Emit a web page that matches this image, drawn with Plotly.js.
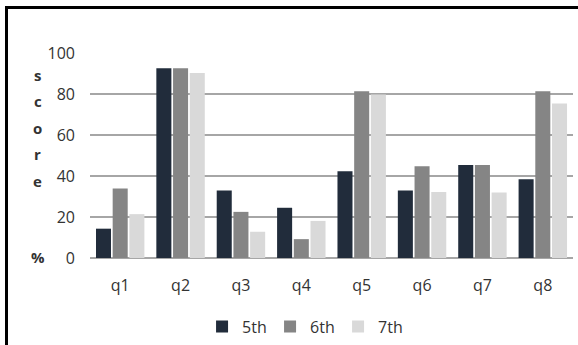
<!DOCTYPE html>
<html>
<head>
<meta charset="utf-8">
<script src="https://cdn.plot.ly/plotly-3.0.1.min.js"></script>
<style>
html,body{margin:0;padding:0;background:#fff;}
#wrap{position:relative;width:578px;height:345px;overflow:hidden;}
#chart{width:578px;height:345px;}
#frame{position:absolute;left:5px;top:6px;right:-10px;bottom:-10px;border-left:3px solid #000;border-top:3px solid #000;pointer-events:none;}
</style>
</head>
<body>
<div id="wrap"><div id="chart"></div><div id="frame"></div></div>
<script>
const categories = ["q1","q2","q3","q4","q5","q6","q7","q8"];
const grade5 = [14.3, 92.6, 32.9, 24.5, 42.3, 32.9, 45.4, 38.4];
const grade6 = [33.9, 92.6, 22.5, 9.2, 81.4, 44.7, 45.4, 81.4];
const grade7 = [21.4, 90.3, 12.8, 18.1, 79.8, 32.2, 31.9, 75.4];
const seriesNames = ["5th","6th","7th"];
const yTicks = [0,20,40,60,80,100];
const yTitleLetters = ["s","c","o","r","e"];

const colors = ["#212c3b","#858585","#d9d9d9"];
const allSeries = [grade5, grade6, grade7];
const font = "Open Sans, DejaVu Sans, sans-serif";

const traces = allSeries.map((vals,i)=>({
  type:"bar", x:categories, y:vals, name:seriesNames[i],
  marker:{color:colors[i], line:{width:0}},
  hoverinfo:"x+y+name"
}));

const annotations = yTitleLetters.map((ch,i)=>({
  xref:"paper", yref:"paper", x:-0.108, y:0.895-i*0.13, text:"<b>"+ch+"</b>",
  showarrow:false, xanchor:"center", yanchor:"middle",
  font:{family:font,size:15,color:"#333"}
}));
annotations.push({
  xref:"paper", yref:"paper", x:-0.108, y:0.005, text:"<b>%</b>",
  showarrow:false, xanchor:"center", yanchor:"middle",
  font:{family:font,size:15,color:"#333"}
});

const layout = {
  width:578, height:345,
  margin:{l:90, r:5, t:53, b:87, autoexpand:false},
  paper_bgcolor:"#fff", plot_bgcolor:"#fff",
  barmode:"group", bargap:0.17, bargroupgap:0.1,
  font:{family:font, size:16, color:"#333"},
  xaxis:{
    showgrid:false, zeroline:false, showline:false,
    ticks:"", ticklabelstandoff:16,
    tickfont:{family:font,size:16,color:"#333"}
  },
  yaxis:{
    range:[0,100], tickvals:yTicks, ticktext:yTicks.map(String),
    showgrid:true, gridcolor:"#a6a6a6", gridwidth:2,
    zeroline:true, zerolinecolor:"#a6a6a6", zerolinewidth:2,
    showline:false, ticks:"", ticklabelstandoff:14,
    tickfont:{family:font,size:16,color:"#333"}
  },
  legend:{
    orientation:"h", x:0.232, xanchor:"left", y:-0.335, yanchor:"middle",
    font:{family:font,size:16,color:"#333"},
    itemwidth:30, entrywidth:23, traceorder:"normal", itemclick:false
  },
  annotations:annotations,
  showlegend:true
};

Plotly.newPlot("chart", traces, layout, {displayModeBar:false, staticPlot:true});
</script>
</body>
</html>
